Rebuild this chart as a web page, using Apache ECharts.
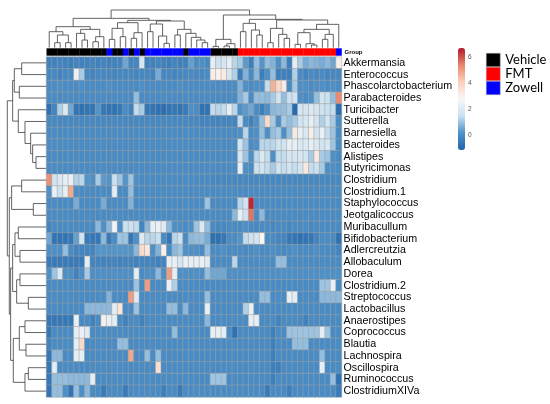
<!DOCTYPE html>
<html>
<head>
<meta charset="utf-8">
<script src="https://cdn.jsdelivr.net/npm/echarts@6/dist/echarts.min.js"></script>
<style>
html, body { margin: 0; background: #fff; }
#main { width: 550px; height: 404px; }
</style>
</head>
<body>
<div id="main"></div>
<script>
// row labels, top to bottom
var taxa = ['Akkermansia', 'Enterococcus', 'Phascolarctobacterium', 'Parabacteroides', 'Turicibacter',
	'Sutterella', 'Barnesiella', 'Bacteroides', 'Alistipes', 'Butyricimonas', 'Clostridium', 'Clostridium.1',
	'Staphylococcus', 'Jeotgalicoccus', 'Muribacullum', 'Bifidobacterium', 'Adlercreutzia', 'Allobaculum',
	'Dorea', 'Clostridium.2', 'Streptococcus', 'Lactobacillus', 'Anaerostipes', 'Coprococcus', 'Blautia',
	'Lachnospira', 'Oscillospira', 'Ruminococcus', 'ClostridiumXIVa'];

// group of each sample column, left to right (V = Vehicle, F = FMT, Z = Zowell)
var sampleGroup = ['V','V','V','V','V','V','V','V','V','V','V','Z','V','V','Z','V','Z','V',
	'Z','Z','Z','Z','Z','Z','Z','V','Z','Z','Z','Z','V','V','V','V','V',
	'F','F','F','F','F','F','F','F','F','F','F','F','F','F','F','F','F','F','Z'];
var groupNames = ['Vehicle', 'FMT', 'Zowell'];
var groupCodes = ['V', 'F', 'Z'];
var groupColors = ['#000000', '#ff0000', '#0000ff'];

// scaled abundance, one row per taxon, 54 samples each
var cellValues = [
	[-0.3,-0.3,-0.2,-0.3,-0.4,-0.2,-0.3,-0.3,-0.2,-0.3,-0.2,-0.3,-0.3,-0.2,0.5,-0.2,-0.2,1.9,-0.3,-0.3,-0.2,-0.3,-0.4,-0.2,-0.3,-0.3,0.4,0,0.1,-0.1,2.3,1.6,1.8,2.3,1.3,1.1,0.3,-0.4,0.9,0.2,0.9,0.7,0.1,0.8,-0.4,2.2,1.1,0.6,0.8,0.7,0.6,0.8,0.5,3.1],
	[-0.1,-0.1,-0.2,-0.1,-0.1,2.4,1.1,-0.1,-0.2,-0.1,-0.1,-0.1,-0.2,-0.1,-0.1,-0.1,-0.2,-0.1,-0.1,-0.2,0.6,-0.1,-0.1,-0.2,-0.1,-0.1,0,-0.1,-0.1,0,3.1,3.0,3.2,1.8,1.2,-0.4,0.7,0,0.8,-0.4,0.1,0.9,-0.4,-0.3,-0.4,1.2,0,-0.2,0,-0.1,0,-0.2,-0.1,-0.1],
	[0,0,0.1,0,0,0,0.1,0,0,0,0,0.1,0,0,0,0,0,0.1,0,0,0,0,0,0,0.1,0,0,0,0,0,0,0,0,0,0,0.7,0.1,0,0.1,0.1,1.4,4.6,3.8,3.2,0,1.1,0.1,0.1,0,0.1,0.1,0,0.1,0],
	[0,0,0,0,0,0,0,0,0,0,0,0,0,0,0,0,0.9,0,0,0,0,0,0,0,0,0,0,0,0,0,0,0,0,0,0,0.7,1.1,0,0.9,0.9,0.8,1.1,1.7,0.9,1.5,1.7,0.1,0,0.1,0.9,1.7,1.5,0.9,5.3],
	[-0.8,-0.2,1.2,2.0,0.5,-0.7,-0.8,-0.7,-0.7,0.2,-0.6,-0.7,-0.8,-0.6,0,-0.3,1.4,1.1,-0.6,-0.7,-0.8,-0.9,-0.7,-0.6,-0.7,-0.5,0.1,0,-0.8,-0.8,1.4,1.3,1.4,2.3,1.3,0.1,0.3,0.5,0,-0.4,0.1,0.8,0.9,0.9,1.1,-1.0,1.8,1.8,2.0,1.8,1.6,1.5,1.4,-0.9],
	[-0.1,-0.1,-0.1,-0.1,-0.1,-0.1,-0.1,-0.1,-0.1,-0.1,-0.1,-0.1,-0.1,-0.1,-0.1,-0.1,-0.1,-0.1,-0.1,-0.1,-0.1,-0.1,-0.1,-0.1,-0.1,-0.1,-0.1,-0.1,-0.2,-0.2,-0.2,-0.2,-0.2,-0.2,-0.2,1.4,0,-0.3,0.1,0.9,3.7,1.1,0.1,1.1,0.9,1.1,1.7,1.9,2.3,1.7,1.2,1.7,1.1,0],
	[0,0,0,0,0,0,0,0,0,0,0,0,0,0,0,0,0,0,0,0,0,0,0,0,0,0,0,0,0,0,0,0,0,0,0,0.1,1.3,0,0.1,0.9,0.1,0.9,1.1,0.1,0.9,3.3,2.3,1.9,3.1,1.7,2.4,1.4,1.0,0],
	[0,0,0,0,0,0,0,0,0,0,0,0,0,0,0,0,0,0,0,0,0,0,0,0,0,0,0,0,0,0,0,0,0,0,0,1.7,1.0,0,0.1,1.3,1.3,1.3,1.7,1.7,2.3,2.3,1.9,2.0,2.3,2.0,1.7,1.9,1.0,0],
	[0,0,0,0,0,0,0,0,0,0,0,0,0,0,0,0,0,0,0,0,0,0,0,0,0,0,0,0,0,0,0,0,0,0,0,1.8,1.0,0.1,1.3,2.0,1.4,0.1,1.4,1.4,1.8,1.8,1.9,1.7,1.1,3.2,1.1,1.0,0.1,0],
	[0,0,0,0,0,0,0,0,0,0,0,0,0,0,0,0,0,0,0,0,0,0,0,0,0,0,0,0,0,0,0,0,0,0,0,2.3,0.1,0,1.5,1.7,1.4,1.1,1.7,1.4,1.7,1.4,1.7,3.3,1.4,1.5,1.1,0.1,0.1,0],
	[5.2,1.7,2.0,2.3,2.4,1.2,1.3,0.2,0.1,1.1,0.3,0.2,1.5,1.0,0.2,1.0,0.1,0,0,0,0,0,0,0,0,0,0,0,0,0,-0.1,-0.1,-0.1,-0.1,-0.1,-0.1,-0.1,-0.1,-0.1,-0.1,-0.1,-0.1,-0.1,-0.1,-0.1,-0.1,-0.1,-0.1,-0.1,-0.1,-0.1,-0.1,-0.1,-0.1],
	[0.1,2.4,1.5,2.3,4.8,0.1,0,0,0,0,0,0,2.2,0,0,0.9,0,0,0,0,0,0,0,0,0,0,0,0,0,0,0,0,0,0,0,0,0,0,0,0,0,0,0,0,0,0,0,0,0,0,0,0,0,0],
	[0,0,0,0,0,0.6,0,0,0,0,0.6,0,0,0,0,0.7,0,0,0,0,0,0,0,0,0,0,0,0,0,1.0,0,0,0,0,0,1.3,1.7,6.5,0,0,0,0,0,0,0,0,0,0,0,0,0,0,0,0],
	[0,0,0,0,0,0,0,0,0,0,0,0,0,0,0,0,0,0,0,0,0,0,0,0,0,0,0,0,0,0,0,0,0,0,0.8,2.3,1.6,5.6,0,0.8,0,0,0,0,0,0,0,0,0,0,0,0,0,0],
	[-0.2,0,0,0,0,0,0,0,0,0.8,0.1,0.8,2.6,0.1,1.5,1.6,1.4,-0.2,0.8,2.3,2.4,2.1,0.8,0.1,0.1,0,0.1,1.0,2.0,0.9,0,-0.1,-0.1,0,0,0,0.1,0,-0.1,0,0,-0.1,0,0,-0.1,0,0,0,-0.1,0,0,0,0,0],
	[0.5,-0.7,-0.7,-0.7,-0.6,0.4,1.7,-0.5,-0.6,-0.6,0.8,-0.5,0,1.0,1.0,-0.6,0.1,2.0,1.3,1.3,1.5,0,-0.6,1.3,1.5,0,0.8,0.9,0.9,0.6,-0.8,-0.8,-0.6,0,0,0.2,1.4,1.6,1.8,2.8,0,0,-0.2,-0.2,-0.6,-0.7,-0.8,-0.7,-0.6,-0.2,0,0,0,-0.8],
	[0.1,0.1,0.1,0.9,0,-0.2,-0.2,-0.2,-0.2,0.2,0.2,0.2,0.2,0.2,0.2,0.2,0.8,3.7,3.3,0.1,0.7,3.0,0,0.8,1.0,0.1,0.1,0.1,0,0.9,0,0,0.1,0,0,0,-0.1,0,0.1,0,0,0.1,0,-0.1,0,0.1,0,0,0,0.1,0,0,0,-0.2],
	[-0.5,-0.5,-0.5,-0.5,-0.5,-0.5,-0.5,2.2,-0.2,-0.2,-0.3,-0.2,-0.2,-0.3,-0.2,-0.2,-0.3,-0.2,-0.2,-0.2,-0.3,-0.2,2.3,2.4,1.8,2.4,2.3,2.3,2.4,2.1,0,0,0,0,1.3,0,0,0,0,0,0,0,0.9,0.9,0,0,0,0,0,0,0,0,0,0],
	[0.1,1.0,2.0,0.1,0.1,-0.3,0.1,1.1,0.1,0.1,0.1,0.1,0.1,0.1,0.1,0.1,2.2,0,0.1,0.1,0.8,0.1,5.0,2.3,0.1,0.1,0.1,0.1,0.1,0.9,0.5,0.5,0.5,0.1,0.1,0.1,0.1,0.1,0.1,0.1,0.1,0.1,0.1,0.1,0.1,0.1,0.1,0.1,0.1,0.1,0.1,0.1,0.1,0.1],
	[0,0,0,0,0,0,0,0,0,0,0,0,0,0,0,0,1.0,0,5.0,0,0,0,2.4,1.2,0,0,0,0,0,0,0,0,0,0,0,0,0,0,0,0,0,0,0,0,0,0,0,0,0,0,1.0,1.0,2.4,0],
	[0,0,0,0,0,0,0,0,0,0,0,0.7,0,0,0,5.0,2.1,0,0,0,0,0,0,0,0,0,0,0,0,0.9,0,0,0,0,0,0,0,0,0,0.9,0.9,0,0,0,2.3,2.2,0,0,0,0,0.8,0.8,0.8,0.8],
	[0,0,0,0,0,0,0,0.8,0.8,0.8,0.8,0.8,2.3,3.4,0,0,1.0,0,0,0,0,0,0.9,0.9,0,0.8,0,0,0,2.3,0,0,0,0,0,0,1.2,2.3,0,0,0,0,0,0,0,0,0,0,0,0,0,0,0,0],
	[-0.6,-0.6,-0.6,-0.6,-0.6,2.3,0,0,-0.3,0,3.0,2.3,2.3,0,-0.3,0,0,-0.3,0,0,0,0,0,0,0,0,0,0,0,0.8,0,0,0,0,0,0,0,2.3,2.3,0,0,0,-0.3,0,0,0,0,-0.3,0,0,0,0,0,0],
	[-0.6,0,0,0,0,2.3,2.4,2.1,0,0,0,0,0,0,0,0,0,0,0,0,0,0,0,0.9,0,0,0,0,0,0,2.3,2.3,2.2,0,-0.8,0,0,0,0,0,0,-0.4,0,0,1.0,1.0,1.0,1.0,1.0,1.0,2.3,1.0,0,0],
	[-0.3,0,0,0,0,2.3,3.8,0,0,0,0,0,0,0.9,0.9,0,0,0,0,0,0,0,0,0,0,0,0,0,0,0,0,0,0,0,0,0,0,0,0,0,0,-0.4,0,0,0,0.9,0.9,0.9,0,0,0,0,0,0],
	[-0.6,0.8,0.8,0,0,2.3,2.3,0,0,0,0,0,0,0,0,4.8,0,0,0.9,0,0.9,0,0,0,0,0,0,0,0,0,0,0,0,0,0,0,0,0,0,0,0,-0.4,0,0,0,0,0,0,0,0,0.9,0,0,0],
	[-0.6,2.2,0,0,0,0,0,0,0,0,0,0,0,0,0,0,0,0,0,0,3.6,0,0,0,0,0,0,0,0,0,0,0,0,0,0,0,0,0,0,0,0,-0.4,-0.4,0,0,0,0,0,0,0,2.3,0,0,0],
	[-0.6,0.9,0.9,0.9,0.8,0.8,0.8,0.8,2.2,0,0,0,0,0,0,0,0,0,0,0,0,0,0,0,0,0,0,0,0,0,1.0,1.0,1.0,0,0,0,0,0,0,0,0,-0.4,0,0,0,0,0,0,0,0,0,0,0.9,-0.8],
	[-0.7,0.9,0.9,0.1,-0.7,0.9,0.1,0.8,0,0,-0.5,0,0,0,-0.5,0,0,0,0,0,0,-0.4,0,0,-0.5,0,0,0,0,0,0,0,0,0,0,0,0,0,0,0,-0.5,0,0,0,-0.4,0,0,0,0,0,0,0,0,-0.5]
];

// dendrograms: node = [left, right, height], leaves are column / row indices
var colTree = [
	[
		[[0, [[1, 2, 15], [3, 4, 15], 38], 48], [[5, [6, 7, 23], 43], [[8, 9, 18], 10, 33], 55], 63],
		[
			[[[11, 12, 25], [13, 14, 33], 58], [[15, 16, 28], 17, 45], 75],
			[[[18, 19, 48], [20, [21, 22, 13], 35], 71], [[23, 24, 38], [25, [26, [27, [28, 29, 15], 23], 31], 43], 55], 80],
			82
		],
		88
	],
	[
		[[30, 31, 4], [[32, 33, 5], 34, 12], 25],
		[
			[[35, 36, 48], [37, [38, 39, 38], 53], 73],
			[[[40, 41, 15], [42, [43, 44, 28], 40], 58], [[[[45, 46, 10], [47, [48, 49, 8], 12], 45], [[50, 51, 25], 52, 40], 55], 53, 70], 83],
			85
		],
		98
	],
	113
];
var rowTree = [
	[[[0, 1, 73], [2, 3, 80], 95], [4, [5, [6, [7, [8, 9, 30], 40], 46], 63], 83], 100],
	[
		[[10, 11, 73], [12, 13, 38], 103],
		[[[[14, 15, 83], [16, 17, 78], 93], [[18, 19, 78], [20, 21, 53], 88], 100], [[[22, 23, 63], [24, 25, 60], 80], [[26, 27, 53], 28, 63], 98], 106],
		110
	],
	116
];

var colorMin = -1.15;
var colorMax = 6.7;
var colorTicks = [0, 2, 4, 6];

// flatten a tree into segments [xLeft, hLeft, xRight, hRight, hNode]
function treeSegments(node, out) {
	if (typeof node === 'number') return { pos: node, h: 0 };
	var a = treeSegments(node[0], out);
	var b = treeSegments(node[1], out);
	out.push([a.pos, a.h, b.pos, b.h, node[2]]);
	return { pos: (a.pos + b.pos) / 2, h: node[2] };
}
var colSegs = [], rowSegs = [];
treeSegments(colTree, colSegs);
treeSegments(rowTree, rowSegs);

var nCols = cellValues[0].length;
var colIds = [];
for (var c = 0; c < nCols; c++) colIds.push(c);

var heatData = [];
cellValues.forEach(function (row, r) {
	row.forEach(function (v, c) { heatData.push([c, r, v]); });
});

var lineStyle = { stroke: '#3c3c3c', lineWidth: 0.8, fill: null };

function colDendro(params, api) {
	var pts = [
		api.coord([api.value(0), api.value(1)]),
		api.coord([api.value(0), api.value(4)]),
		api.coord([api.value(2), api.value(4)]),
		api.coord([api.value(2), api.value(3)])
	];
	return { type: 'polyline', shape: { points: pts }, style: lineStyle };
}
function rowDendro(params, api) {
	var pts = [
		api.coord([api.value(1), api.value(0)]),
		api.coord([api.value(4), api.value(0)]),
		api.coord([api.value(4), api.value(2)]),
		api.coord([api.value(3), api.value(2)])
	];
	return { type: 'polyline', shape: { points: pts }, style: lineStyle };
}
function groupCell(params, api) {
	var p = api.coord([api.value(0), 0]);
	var s = api.size([1, 1]);
	return {
		type: 'rect',
		shape: { x: p[0] - s[0] / 2, y: p[1] - s[1] / 2, width: s[0] + 0.3, height: s[1] },
		style: { fill: api.visual('color') }
	};
}

var groupSeries = groupNames.map(function (name, g) {
	var idx = [];
	sampleGroup.forEach(function (code, c) { if (code === groupCodes[g]) idx.push([c, 0]); });
	return {
		name: name, type: 'custom', xAxisIndex: 3, yAxisIndex: 3,
		itemStyle: { color: groupColors[g] },
		renderItem: groupCell, data: idx, silent: true
	};
});

var chart = echarts.init(document.getElementById('main'));
chart.setOption({
	animation: false,
	textStyle: { fontFamily: 'Liberation Sans, Arial, sans-serif' },
	grid: [
		{ left: 46.5, top: 57, width: 295, height: 340 },
		{ left: 46.5, top: 10, width: 295, height: 37.7 },
		{ left: 7.3, top: 57, width: 38.7, height: 340 },
		{ left: 46.5, top: 48.3, width: 295, height: 7.4 },
		{ left: 458, top: 48, width: 7, height: 102 }
	],
	xAxis: [
		{ gridIndex: 0, type: 'category', data: colIds, show: false },
		{ gridIndex: 1, type: 'value', min: -0.5, max: nCols - 0.5, show: false },
		{ gridIndex: 2, type: 'value', min: 0, max: 116, inverse: true, show: false },
		{ gridIndex: 3, type: 'category', data: colIds, show: false },
		{ gridIndex: 4, type: 'category', data: [''], show: false }
	],
	yAxis: [
		{
			gridIndex: 0, type: 'category', data: taxa, inverse: true, position: 'right',
			axisLine: { show: false }, axisTick: { show: false }, splitLine: { show: false },
			axisLabel: { interval: 0, fontSize: 10.7, color: '#000', margin: 2 }
		},
		{ gridIndex: 1, type: 'value', min: 0, max: 113, show: false },
		{ gridIndex: 2, type: 'value', min: -0.5, max: taxa.length - 0.5, inverse: true, show: false },
		{
			gridIndex: 3, type: 'category', data: ['Group'], position: 'right',
			axisLine: { show: false }, axisTick: { show: false },
			axisLabel: { fontSize: 6, fontWeight: 'bold', color: '#000', margin: 3 }
		},
		{
			gridIndex: 4, type: 'value', min: colorMin, max: colorMax, position: 'right',
			axisLine: { show: false }, axisTick: { show: false }, splitLine: { show: false },
			axisLabel: { customValues: colorTicks, fontSize: 6.5, color: '#555', margin: 3 }
		}
	],
	visualMap: {
		type: 'continuous', seriesIndex: 0, min: colorMin, max: colorMax,
		left: 458, top: 48, itemWidth: 7, itemHeight: 102, padding: 0,
		calculable: false, hoverLink: false,
		inRange: { color: ['#2166ac', '#4f91c8', '#c9e0f0', '#f7f7f7', '#fbd1bb', '#e8866a', '#b2182b'] }
	},
	legend: {
		data: groupNames, orient: 'vertical', left: 486, top: 53, padding: 0,
		itemWidth: 14, itemHeight: 13.5, itemGap: 0, icon: 'rect', selectedMode: false,
		itemStyle: { borderColor: '#aaa', borderWidth: 0.5 },
		textStyle: { fontFamily: 'Lato', fontSize: 13, color: '#000', lineHeight: 13.5 }
	},
	series: [
		{
			type: 'heatmap', xAxisIndex: 0, yAxisIndex: 0, data: heatData, silent: true,
			itemStyle: { borderColor: '#a0a0a0', borderWidth: 0.5 },
			emphasis: { disabled: true }
		},
		{ type: 'custom', xAxisIndex: 1, yAxisIndex: 1, renderItem: colDendro, data: colSegs, silent: true },
		{ type: 'custom', xAxisIndex: 2, yAxisIndex: 2, renderItem: rowDendro, data: rowSegs, silent: true }
	].concat(groupSeries)
});
</script>
</body>
</html>
